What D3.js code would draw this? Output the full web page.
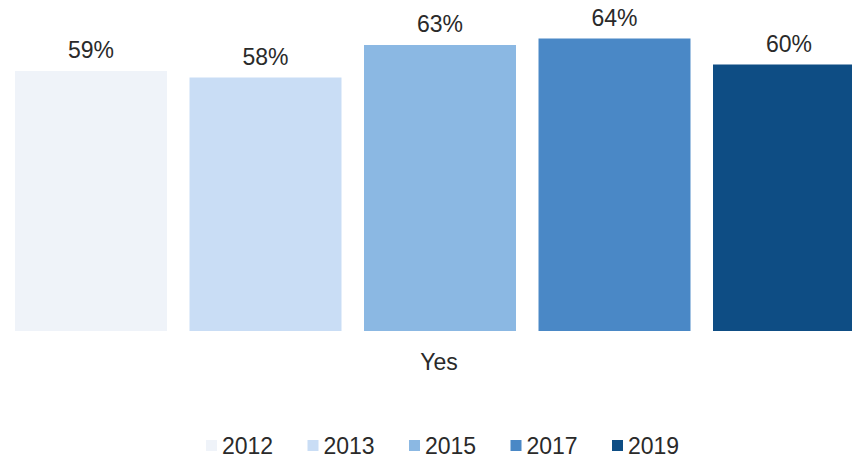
<!DOCTYPE html>
<html>
<head>
<meta charset="utf-8">
<script src="https://cdn.jsdelivr.net/npm/d3@7"></script>
<style>
  html, body { margin: 0; padding: 0; background: #fff; }
  svg { display: block; }
  text { font-family: "Liberation Sans", Arial, sans-serif; fill: #2a2a2a; }
</style>
</head>
<body>
<svg id="chart" width="852" height="459"></svg>
<script>
// Share answering "Yes", by survey year
const category = "Yes";
const years = ["2012", "2013", "2015", "2017", "2019"];
const values = [59, 58, 63, 64, 60];
const colors = ["#eff3f9", "#c9ddf5", "#8bb8e3", "#4a88c6", "#0e4d84"];

const svg = d3.select("#chart");

// Band scale for the year bars within the single category group
const x = d3.scaleBand()
  .domain(years)
  .range([15, 865])
  .paddingInner(0.129)
  .paddingOuter(0);

// Value axis (not drawn) starts above zero
const y = d3.scaleLinear()
  .domain([19, 64])
  .range([331, 38.5]);

const color = d3.scaleOrdinal().domain(years).range(colors);

const data = years.map((yr, i) => ({ year: yr, value: values[i] }));

// Bars
svg.append("g")
  .selectAll("rect")
  .data(data)
  .join("rect")
  .attr("x", d => x(d.year))
  .attr("y", d => y(d.value))
  .attr("width", x.bandwidth())
  .attr("height", d => y.range()[0] - y(d.value))
  .attr("fill", d => color(d.year));

// Value labels
svg.append("g")
  .selectAll("text")
  .data(data)
  .join("text")
  .attr("x", d => x(d.year) + x.bandwidth() / 2)
  .attr("y", d => y(d.value) - 13)
  .attr("text-anchor", "middle")
  .style("font-size", "23px")
  .text(d => d.value + "%");

// Category axis label
const xCenter = (x.range()[0] + x.range()[1]) / 2;
svg.append("text")
  .attr("x", xCenter - 1)
  .attr("y", 370)
  .attr("text-anchor", "middle")
  .style("font-size", "23px")
  .text(category);

// Legend
const legendStep = 101.5;
const legendX0 = 206;
const legend = svg.append("g")
  .selectAll("g")
  .data(years)
  .join("g")
  .attr("transform", (d, i) => `translate(${legendX0 + i * legendStep},446)`);

legend.append("rect")
  .attr("x", 0)
  .attr("y", -6)
  .attr("width", 11)
  .attr("height", 11)
  .attr("fill", d => color(d));

legend.append("text")
  .attr("x", 16)
  .attr("y", 8)
  .style("font-size", "23px")
  .text(d => d);
</script>
</body>
</html>
